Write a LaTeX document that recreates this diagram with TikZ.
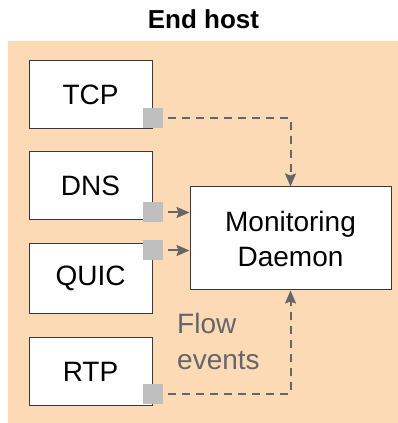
\documentclass[tikz,border=0pt]{standalone}
\usepackage{fontspec}
\setmainfont{Liberation Sans}
\usetikzlibrary{arrows.meta}
\definecolor{peach}{HTML}{FDDAB6}
\definecolor{sqgray}{HTML}{BFBFBF}
\definecolor{linegray}{HTML}{666666}
\definecolor{boxline}{HTML}{3A3A3A}
\tikzset{
  protobox/.style={draw=boxline, line width=1pt, fill=white, minimum width=123pt, minimum height=68pt, inner sep=0pt, font=\fontsize{28}{35}\selectfont},
  portsq/.style={fill=sqgray, draw=none, minimum width=20pt, minimum height=20pt, inner sep=0pt},
  flow/.style={draw=linegray, line width=2pt, dash pattern=on 8pt off 6pt, -{Stealth[length=13pt,width=11pt,inset=2pt]}},
  shortflow/.style={draw=linegray, line width=2pt, -{Stealth[length=13pt,width=11pt,inset=2pt]}},
}
\begin{document}
\begin{tikzpicture}[x=1pt,y=1pt]
\useasboundingbox (0,0) rectangle (398,423);
\fill[peach] (8,0) rectangle (398,382);
\node[font=\fontsize{26}{30}\selectfont\bfseries, anchor=base] (title) at (203.5,394) {End host};
\node[protobox] (tcp) at (90.5,328.5) {TCP};
\node[protobox] (dns) at (90.5,237) {DNS};
\node[protobox, minimum height=70pt] (quic) at (90.5,144.5) {QUIC};
\node[protobox] (rtp) at (90.5,51) {RTP};
\node[draw=boxline, line width=1pt, fill=white, minimum width=201pt, minimum height=103pt, inner sep=0pt, align=center, font=\fontsize{28}{35}\selectfont] (mon) at (290.5,184.5) {Monitoring\\Daemon};
\node[portsq] (tcpsq) at (153,305) {};
\node[portsq] (dnssq) at (153,210.5) {};
\node[portsq] (quicsq) at (153,172.5) {};
\node[portsq] (rtpsq) at (153,29) {};
\node[anchor=west, align=left, text=linegray, inner sep=0pt, font=\fontsize{28}{36}\selectfont] (lbl) at (177,82) {Flow\\events};
\coordinate (tcpc) at (290.5,305);
\coordinate (rtpc) at (290.5,29);
\draw[flow] ([xshift=5pt]tcpsq.east) -- (tcpc) -- (mon.north);
\draw[flow] ([xshift=5pt]rtpsq.east) -- (rtpc) -- (mon.south);
\draw[shortflow] ([xshift=5pt]dnssq.east) -- (dnssq.east -| mon.west);
\draw[shortflow] ([xshift=5pt]quicsq.east) -- (quicsq.east -| mon.west);
\end{tikzpicture}
\end{document}
